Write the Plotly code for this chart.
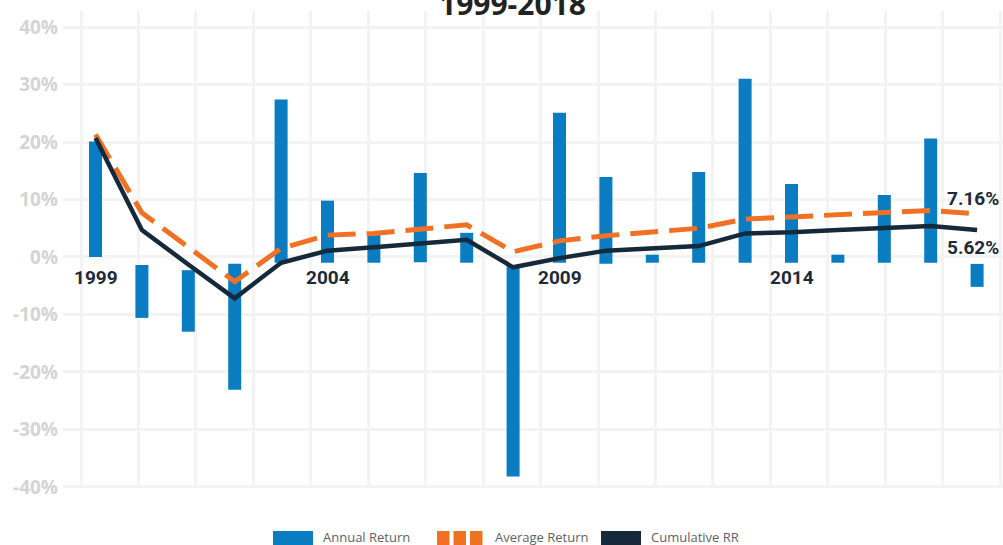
import plotly.graph_objects as go

# ---------------- data ----------------
years = list(range(1999, 2019))
bar_start = [0, -1.4, -2.3, -1.2, -1.0, -1.0, -1.0, -0.9, -1.0, -1.4,
             -1.0, -1.2, -1.0, -1.0, -1.0, -1.0, -1.0, -1.0, -1.0, -1.2]
bar_end = [20.1, -10.6, -13.0, -23.1, 27.4, 9.8, 3.8, 14.6, 4.2, -38.2,
           25.1, 13.9, 0.4, 14.8, 31.0, 12.7, 0.4, 10.8, 20.6, -5.2]
average_return = [21.3, 7.7, 1.7, -4.3, 1.5, 3.8, 4.1, 4.8, 5.6, 0.9,
                  2.8, 3.7, 4.3, 5.0, 6.6, 7.0, 7.3, 7.8, 8.1, 7.5]
cumulative_rr = [20.7, 4.7, -1.3, -7.2, -1.0, 1.1, 1.7, 2.4, 3.0, -1.8,
                 -0.2, 1.1, 1.5, 1.9, 4.1, 4.3, 4.7, 5.1, 5.4, 4.7]
year_labels = ["1999", "2004", "2009", "2014"]
y_ticks = [-40, -30, -20, -10, 0, 10, 20, 30, 40]
end_labels = ["7.16%", "5.62%"]
series_names = ["Annual Return", "Average Return", "Cumulative RR"]
title_text = "1999-2018"

BLUE = "#0a7cc2"
ORANGE = "#f07124"
NAVY = "#15293b"
GRID = "#f3f3f3"
LABEL_FONT = "Roboto, Liberation Sans, sans-serif"

idx = list(range(len(years)))
bar_len = [e - s for s, e in zip(bar_start, bar_end)]

fig = go.Figure()

# invisible trace to activate the decorative vertical grid axis
fig.add_trace(go.Scatter(x=[0], y=[0], xaxis="x2", mode="markers",
                         marker=dict(opacity=0), hoverinfo="skip", showlegend=False))

fig.add_trace(go.Bar(x=idx, y=bar_len, base=bar_start, width=0.28,
                     marker=dict(color=BLUE, line=dict(width=0)),
                     name=series_names[0], showlegend=False))
fig.add_trace(go.Scatter(x=idx, y=average_return, mode="lines",
                         line=dict(color=ORANGE, width=5, dash="28px,11px"),
                         name=series_names[1], showlegend=False))
fig.add_trace(go.Scatter(x=idx, y=cumulative_rr, mode="lines",
                         line=dict(color=NAVY, width=4.5),
                         name=series_names[2], showlegend=False))

L, R, T, B = 63, 0, 11, 57
W, H = 1003, 545
pw = W - L - R
ph = H - T - B

def px_x(p):
    return (p - L) / pw

def px_y(p):
    return (H - B - p) / ph

annotations = []
# year labels
for lab in year_labels:
    annotations.append(dict(x=years.index(int(lab)), y=-3.5, xref="x", yref="y",
                            text=lab, showarrow=False, xanchor="center", yanchor="middle",
                            font=dict(family=LABEL_FONT, size=19, color="#1d2a38", weight="bold")))
# end labels
for lab, yv in zip(end_labels, [10.1, 1.6]):
    annotations.append(dict(x=(1001 - 95.5) / 46.4, y=yv, xref="x", yref="y", text=lab,
                            showarrow=False, xanchor="right", yanchor="middle",
                            font=dict(family=LABEL_FONT, size=19, color="#1d2a38", weight="bold")))
# title (cut off at the top, as in the original)
annotations.append(dict(x=px_x(512), y=px_y(26), xref="paper", yref="paper",
                        text=title_text, showarrow=False, xanchor="center", yanchor="bottom",
                        font=dict(family="Open Sans, sans-serif", size=30, color="#222222",
                                  weight="bold")))

# custom legend
shapes = []
leg_y0, leg_y1 = px_y(545), px_y(531)
shapes.append(dict(type="rect", xref="paper", yref="paper", x0=px_x(273), x1=px_x(313),
                   y0=leg_y0, y1=leg_y1, fillcolor=BLUE, line=dict(width=0)))
for a, b in [(437, 449.5), (453.5, 466), (470, 482.5)]:
    shapes.append(dict(type="rect", xref="paper", yref="paper", x0=px_x(a), x1=px_x(b),
                       y0=leg_y0, y1=leg_y1, fillcolor=ORANGE, line=dict(width=0)))
shapes.append(dict(type="rect", xref="paper", yref="paper", x0=px_x(601), x1=px_x(641),
                   y0=leg_y0, y1=leg_y1, fillcolor=NAVY, line=dict(width=0)))
for name, xp in zip(series_names, [321, 493, 649]):
    annotations.append(dict(x=px_x(xp), y=px_y(536.5), xref="paper", yref="paper",
                            text=name, showarrow=False, xanchor="left", yanchor="middle",
                            font=dict(family="Open Sans, sans-serif", size=13, color="#5f5f5f")))

fig.update_layout(
    width=W, height=H,
    margin=dict(l=L, r=R, t=T, b=B, pad=0),
    paper_bgcolor="white", plot_bgcolor="white",
    showlegend=False,
    barmode="overlay",
    xaxis=dict(range=[(L - 95.5) / 46.4, (W - R - 95.5) / 46.4], showgrid=False,
               showticklabels=False, zeroline=False, showline=False, ticks=""),
    xaxis2=dict(overlaying="x", range=[(L - 81) / 57.45, (W - R - 81) / 57.45],
                showgrid=True, gridcolor=GRID, gridwidth=3, dtick=1, tick0=0,
                showticklabels=False, zeroline=False, showline=False, ticks="", side="top"),
    yaxis=dict(range=[-40.2, 42.8], tickvals=y_ticks,
               ticktext=[f"{v}%" for v in y_ticks],
               showgrid=True, gridcolor=GRID, gridwidth=3, zeroline=False,
               showline=False, ticks="", ticklabelstandoff=4,
               tickfont=dict(family="Open Sans, sans-serif", size=19, color="#d4d4d4",
                             weight="bold")),
    annotations=annotations,
    shapes=shapes,
)

fig.write_html("out.html", config={"displayModeBar": False},
               post_script="document.body.style.margin='0';document.body.style.overflow='hidden';")
